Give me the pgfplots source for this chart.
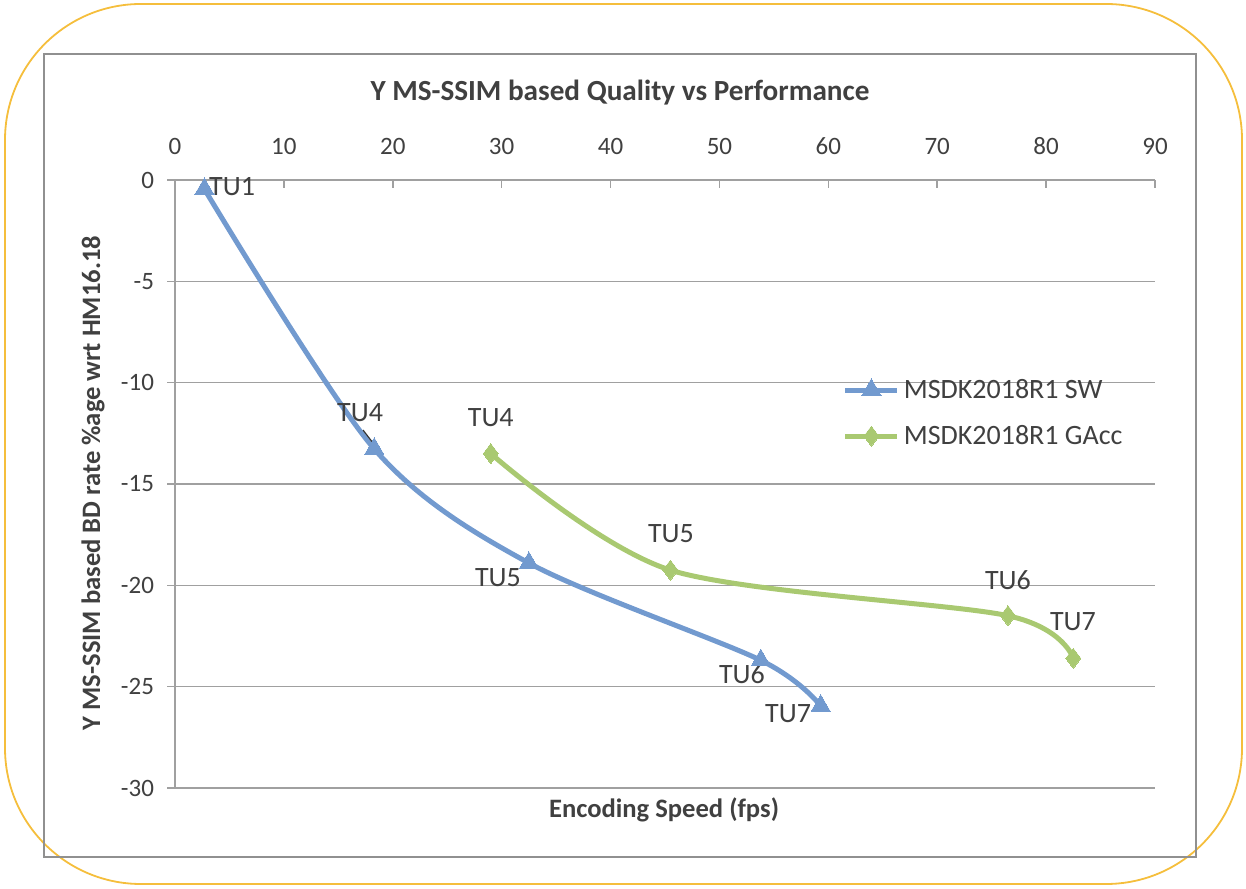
\documentclass[border=0pt]{standalone}
\usepackage{pgfplots}
\pgfplotsset{compat=1.18}
\usepackage{fontspec}
\setmainfont{Carlito}
\definecolor{swblue}{RGB}{114,154,207}
\definecolor{gagreen}{RGB}{169,201,113}
\definecolor{txt}{RGB}{64,64,64}
\definecolor{frameorange}{RGB}{245,190,60}
\definecolor{gridgray}{RGB}{160,160,160}
\begin{document}
\begin{tikzpicture}[x=1pt,y=1pt]
\path[use as bounding box] (0,0) rectangle (623,444);
\draw[frameorange, line width=0.9pt, rounded corners=68pt] (2.5,2) rectangle (621,442);
\draw[gridgray!90!black, line width=0.8pt] (22,15.5) rectangle (598,417);
\node[font=\fontsize{14.6}{17}\selectfont\bfseries, text=txt] at (310,397.5) {Y MS-SSIM based Quality vs Performance};
\begin{axis}[
  at={(87.5pt,50pt)}, anchor=south west,
  scale only axis, width=490pt, height=304pt,
  xmin=0, xmax=90, ymin=-30, ymax=0,
  axis x line=top, axis y line=left,
  axis line style={gridgray, line width=0.8pt, -},
  xtick={0,10,...,90}, ytick={-30,-25,...,0},
  xtick align=inside, ytick align=outside,
  major tick length=4pt,
  tick style={gridgray, line width=0.8pt},
  ymajorgrids, grid style={gridgray, line width=0.8pt},
  /pgf/number format/assume math mode=true,
  tick label style={font=\fontsize{12.5}{14}\selectfont, text=txt},
  xticklabel style={yshift=9pt},
  yticklabel style={xshift=-3pt},
  clip=false,
  legend style={at={(axis cs:61.3,-9.6)}, anchor=north west, draw=none, fill=none,
    font=\fontsize{14}{16}\selectfont, text=txt, row sep=8pt, inner sep=0pt},
  legend cell align=left,
  legend image code/.code={
    \draw[#1, mark=none] (0pt,0pt) -- (26pt,0pt);
    \path[#1, only marks] plot coordinates {(13pt,0pt)};
  },
]
\addplot[swblue, line width=2.5pt, smooth, mark=triangle*, mark size=5.6pt, mark options={solid, line width=0pt}]
 coordinates {(2.7,-0.45) (18.3,-13.27) (32.5,-18.9) (53.8,-23.7) (59.3,-25.95)};
\addlegendentry{MSDK2018R1 SW}
\addplot[gagreen, line width=2.5pt, smooth, mark=diamond*, mark size=5pt, mark options={solid, line width=0pt}]
 coordinates {(29.0,-13.5) (45.5,-19.25) (76.5,-21.5) (82.5,-23.6)};
\addlegendentry{MSDK2018R1 GAcc}

\begin{scope}[every node/.style={font=\fontsize{14}{16}\selectfont, text=txt, inner sep=0pt}]
\node[anchor=west] at (axis cs:3.1,-0.35) {TU1};
\node at (axis cs:17.0,-11.5) {TU4};
\node at (axis cs:29.66,-19.64) {TU5};
\node at (axis cs:52.07,-24.37) {TU6};
\node at (axis cs:56.3,-26.35) {TU7};
\node at (axis cs:29.0,-11.74) {TU4};
\node at (axis cs:45.55,-17.47) {TU5};
\node at (axis cs:76.5,-19.74) {TU6};
\node at (axis cs:82.47,-21.81) {TU7};
\end{scope}
\draw[black!80, line width=0.6pt] (axis cs:17.27,-12.34) -- (axis cs:18.46,-13.17);
\end{axis}
\node[font=\fontsize{13.3}{15}\selectfont\bfseries, text=txt, rotate=90] at (46.5,202.5) {Y MS-SSIM based BD rate \%age wrt HM16.18};
\node[font=\fontsize{13.3}{15}\selectfont\bfseries, text=txt] at (332,39) {Encoding Speed (fps)};
\end{tikzpicture}
\end{document}
